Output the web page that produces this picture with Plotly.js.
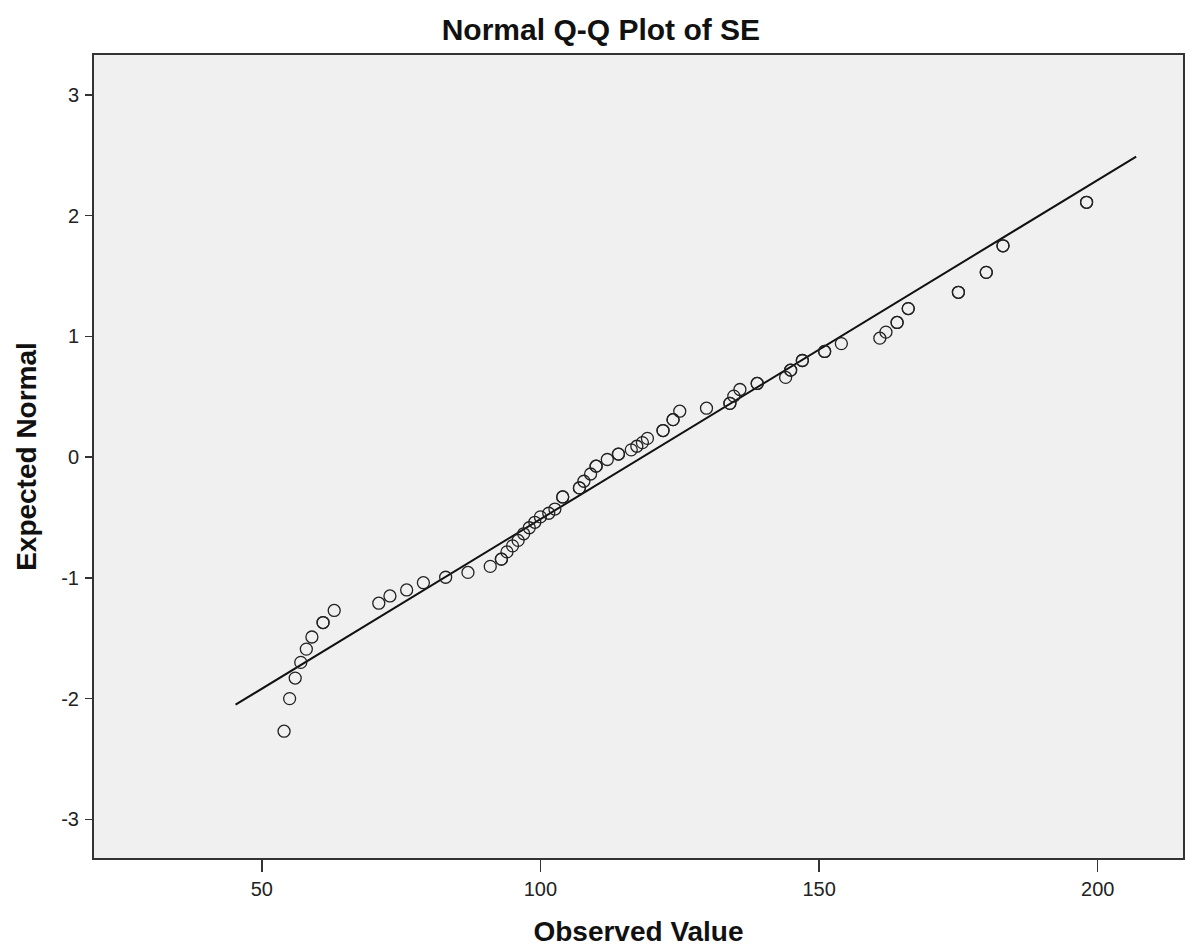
<!DOCTYPE html>
<html>
<head>
<meta charset="utf-8">
<script src="https://cdn.plot.ly/plotly-3.0.1.min.js"></script>
<style>
  html, body { margin: 0; padding: 0; background: #ffffff; }
  #chart { width: 1197px; height: 948px; }
</style>
</head>
<body>
<div id="chart"></div>
<script>
// Repeated pairs are tied observations drawn on top of each other (darker circles).
var observedValues = [
  54, 55, 56, 57, 58, 59, 61, 61, 63, 71, 73, 76, 79, 83, 87, 91, 93, 93,
  94, 95, 96, 97, 98, 99, 100, 101.5, 102.6, 104, 104, 107, 107, 107.8, 109,
  110, 110, 112, 114, 114, 116.3, 117.3, 118.3, 119.2, 122, 122, 123.8, 123.8,
  125, 129.8, 134, 134, 134.7, 135.8, 138.9, 138.9, 144, 144.9, 144.9,
  147, 147, 151, 151, 154, 160.9, 162, 164, 164, 166, 166, 175, 175,
  180, 180, 183, 183, 198, 198
];
var expectedNormal = [
  -2.27, -2.00, -1.83, -1.70, -1.59, -1.49, -1.37, -1.37, -1.27, -1.21, -1.15, -1.10, -1.04, -0.995, -0.955, -0.905, -0.845, -0.845,
  -0.785, -0.735, -0.69, -0.635, -0.585, -0.54, -0.495, -0.465, -0.43, -0.33, -0.33, -0.255, -0.255, -0.20, -0.14,
  -0.075, -0.075, -0.02, 0.025, 0.025, 0.06, 0.09, 0.12, 0.155, 0.22, 0.22, 0.31, 0.31,
  0.38, 0.405, 0.445, 0.445, 0.505, 0.56, 0.61, 0.61, 0.66, 0.72, 0.72,
  0.80, 0.80, 0.875, 0.875, 0.94, 0.985, 1.035, 1.115, 1.115, 1.23, 1.23, 1.365, 1.365,
  1.53, 1.53, 1.75, 1.75, 2.11, 2.11
];

// Reference line of the fitted normal distribution
var lineMean = 118.3;
var lineSD = 35.6;
var lineXRange = [45.3, 206.9];

// Axis ticks
var xTickValues = [50, 100, 150, 200];
var yTickValues = [-3, -2, -1, 0, 1, 2, 3];

var lineY = lineXRange.map(function (v) { return (v - lineMean) / lineSD; });

var traces = [
  {
    x: lineXRange,
    y: lineY,
    type: 'scatter',
    mode: 'lines',
    line: { color: '#111111', width: 2 },
    hoverinfo: 'skip',
    showlegend: false
  },
  {
    x: observedValues,
    y: expectedNormal,
    type: 'scatter',
    mode: 'markers',
    marker: {
      symbol: 'circle-open',
      size: 12,
      color: '#222222',
      line: { color: '#222222', width: 1.3 }
    },
    showlegend: false
  }
];

var tickFont = { family: 'Liberation Sans, Arial, sans-serif', size: 20, color: '#222222' };
var titleFont = { family: 'Liberation Sans, Arial, sans-serif', size: 28, color: '#111111' };

var layout = {
  width: 1197,
  height: 948,
  paper_bgcolor: '#ffffff',
  plot_bgcolor: '#f0f0f0',
  margin: { l: 94, r: 14, t: 55, b: 90 },
  title: {
    text: '<b>Normal Q-Q Plot of SE</b>',
    font: { family: 'Liberation Sans, Arial, sans-serif', size: 30, color: '#111111' },
    x: 0.502, xanchor: 'center',
    y: 0.969, yanchor: 'middle'
  },
  xaxis: {
    range: [19.9, 215.3],
    tickvals: xTickValues,
    ticktext: xTickValues.map(String),
    ticks: 'outside',
    ticklen: 12,
    tickwidth: 1.5,
    tickcolor: '#333333',
    ticklabelstandoff: 0,
    tickfont: tickFont,
    showgrid: false,
    zeroline: false,
    showline: true,
    linecolor: '#333333',
    linewidth: 2,
    mirror: true,
    title: {
      text: '<b>Observed Value</b>',
      font: titleFont,
      standoff: 22
    }
  },
  yaxis: {
    range: [-3.32, 3.33],
    tickvals: yTickValues,
    ticktext: yTickValues.map(String),
    ticks: 'outside',
    ticklen: 7,
    tickwidth: 1.5,
    tickcolor: '#333333',
    ticklabelstandoff: 2,
    tickfont: tickFont,
    showgrid: false,
    zeroline: false,
    showline: true,
    linecolor: '#333333',
    linewidth: 2,
    mirror: true,
    title: {
      text: '<b>Expected Normal</b>',
      font: titleFont,
      standoff: 16
    }
  }
};

Plotly.newPlot('chart', traces, layout, { displayModeBar: false, staticPlot: true });
</script>
</body>
</html>
